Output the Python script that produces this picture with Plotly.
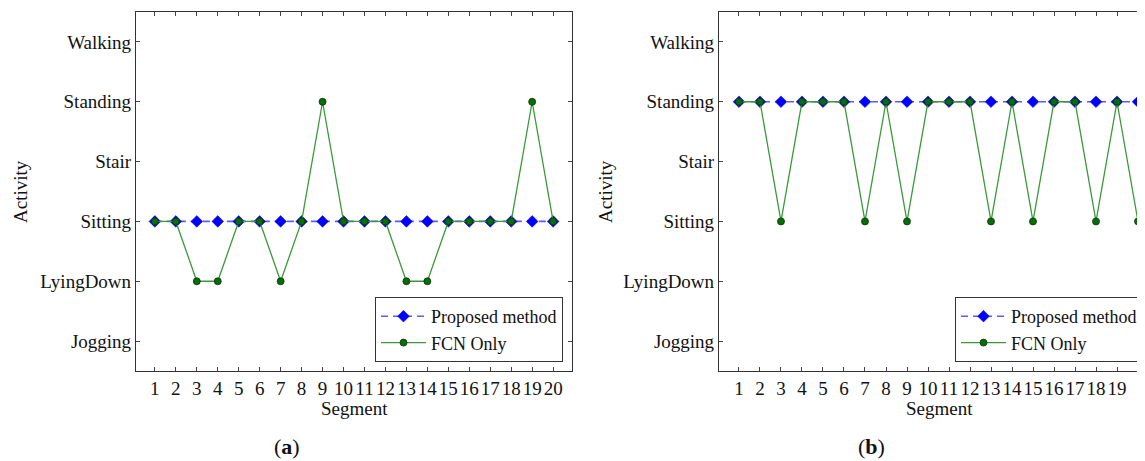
import plotly.graph_objects as go

activities = ["Jogging", "LyingDown", "Sitting", "Stair", "Standing", "Walking"]
segments = list(range(1, 21))

# Panel (a)
proposed_a = ["Sitting"] * 20
fcn_a = ["Sitting", "Sitting", "LyingDown", "LyingDown", "Sitting", "Sitting", "LyingDown",
         "Sitting", "Standing", "Sitting", "Sitting", "Sitting", "LyingDown", "LyingDown",
         "Sitting", "Sitting", "Sitting", "Sitting", "Standing", "Sitting"]

# Panel (b)
proposed_b = ["Standing"] * 20
fcn_b = ["Standing", "Standing", "Sitting", "Standing", "Standing", "Standing", "Sitting",
         "Standing", "Sitting", "Standing", "Standing", "Standing", "Sitting", "Standing",
         "Sitting", "Standing", "Standing", "Sitting", "Standing", "Sitting"]

series_names = ["Proposed method", "FCN Only"]
captions = ["(<b>a</b>)", "(<b>b</b>)"]

FONT = "Liberation Serif"
OFF = 8  # body margin of the page
W, H = 1145 - OFF, 461 - OFF

def px(x):
    return (x - OFF) / W

def py(y):
    return 1 - (y - OFF) / H

fig = go.Figure()

def add_panel(prop, fcn, xa, ya, legend):
    fig.add_trace(go.Scatter(
        x=segments, y=prop, mode="lines+markers", name=series_names[0],
        xaxis=xa, yaxis=ya, legend=legend,
        line=dict(color="rgba(50,50,255,0.8)", width=1.6, dash="7px,5px"),
        marker=dict(symbol="diamond", size=9, color="#0000ff",
                    line=dict(color="#0000cc", width=0.5)),
    ))
    fig.add_trace(go.Scatter(
        x=segments, y=fcn, mode="lines+markers", name=series_names[1],
        xaxis=xa, yaxis=ya, legend=legend,
        line=dict(color="#3a9a3a", width=1.3),
        marker=dict(symbol="circle", size=7, color="#007000",
                    line=dict(color="#1a2a1a", width=0.8)),
    ))

add_panel(proposed_a, fcn_a, "x", "y", "legend")
add_panel(proposed_b, fcn_b, "x2", "y2", "legend2")

ydom = [py(371), py(12)]
tickfont = dict(family=FONT, size=19, color="#111")
common_x = dict(
    tickmode="array", tickvals=segments, ticktext=[str(s) for s in segments],
    tickangle=0, automargin=False,
    ticks="inside", ticklen=4, tickcolor="#444", tickwidth=1,
    showline=True, linecolor="#333", linewidth=1.2, mirror="ticks",
    showgrid=False, zeroline=False, tickfont=tickfont,
)
common_y = dict(
    type="category", categoryorder="array", categoryarray=activities,
    range=[-0.5, 5.5], automargin=False,
    ticks="inside", ticklen=4, tickcolor="#444", tickwidth=1,
    showline=True, linecolor="#333", linewidth=1.2,
    showgrid=False, zeroline=False, tickfont=tickfont,
)

legend_common = dict(y=py(362), yanchor="bottom", bordercolor="#333", borderwidth=1,
                     bgcolor="white", font=dict(family=FONT, size=18, color="#111"),
                     tracegroupgap=0, itemwidth=45)

fig.update_layout(
    width=W, height=H,
    margin=dict(l=0, r=0, t=0, b=0, autoexpand=False),
    paper_bgcolor="white", plot_bgcolor="white",
    showlegend=True,
    xaxis=dict(common_x, domain=[px(136), px(572)], range=[0.1, 20.9], anchor="y"),
    yaxis=dict(common_y, domain=ydom, anchor="x", mirror="ticks"),
    xaxis2=dict(common_x, domain=[px(719), 1.0], range=[0.048, 20.0 + (1145 - 1138) / 21.0],
                anchor="y2"),
    yaxis2=dict(common_y, domain=ydom, anchor="x2", mirror=False),
    legend=dict(legend_common, x=px(563), xanchor="right"),
    legend2=dict(legend_common, x=px(955), xanchor="left"),
)

annotations = [
    dict(text="Activity", x=px(20), y=py(192), textangle=-90),
    dict(text="Segment", x=px(354), y=py(408)),
    dict(text="Activity", x=px(605), y=py(192), textangle=-90),
    dict(text="Segment", x=px(939), y=py(408)),
]
for a in annotations:
    fig.add_annotation(xref="paper", yref="paper", showarrow=False,
                       xanchor="center", yanchor="middle",
                       font=dict(family=FONT, size=19, color="#111"), **a)

for cap, cx in zip(captions, [287, 872]):
    fig.add_annotation(text=cap, x=px(cx), y=py(446), xref="paper", yref="paper",
                       showarrow=False, xanchor="center", yanchor="middle",
                       font=dict(family=FONT, size=22, color="#111"))

fig.write_html("out.html")
